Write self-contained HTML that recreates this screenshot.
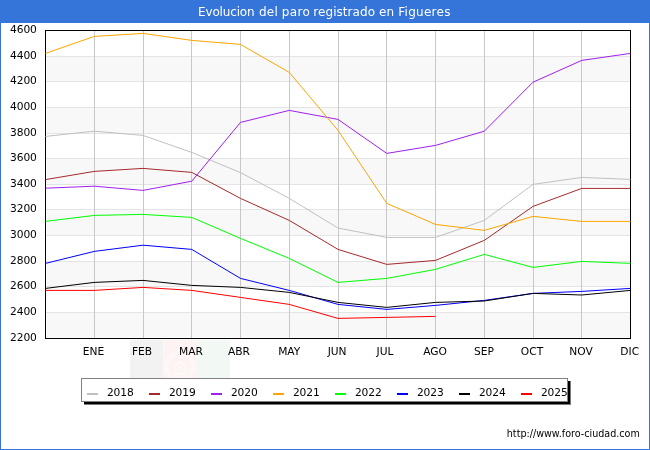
<!DOCTYPE html>
<html><head><meta charset="utf-8"><title>Evolucion del paro registrado en Figueres</title>
<style>
html,body{margin:0;padding:0;background:#fff;}
body{width:650px;height:450px;overflow:hidden;position:relative;font-family:"DejaVu Sans","Liberation Sans",sans-serif;}
svg{will-change:transform;position:absolute;left:0;top:0;display:block;}
text{font-family:"DejaVu Sans","Liberation Sans",sans-serif;}
text.u{font-family:"DejaVu Sans Condensed","DejaVu Sans","Liberation Sans",sans-serif;}
</style></head><body>
<svg width="650" height="450" viewBox="0 0 650 450">
<rect x="0" y="0" width="650" height="450" fill="#fff"/>
<g shape-rendering="crispEdges">
<rect x="0" y="0" width="650" height="23" fill="#3574d8"/>
<rect x="0" y="0" width="650" height="22" fill="#3574d8"/>
<rect x="0" y="0" width="1" height="450" fill="#3574d8"/>
<rect x="649" y="0" width="1" height="450" fill="#3574d8"/>
<rect x="0" y="449" width="650" height="1" fill="#3574d8"/>

<rect x="47" y="57" width="583" height="24" fill="#f8f8f8"/>
<rect x="47" y="108" width="583" height="25" fill="#f8f8f8"/>
<rect x="47" y="159" width="583" height="25" fill="#f8f8f8"/>
<rect x="47" y="210" width="583" height="25" fill="#f8f8f8"/>
<rect x="47" y="262" width="583" height="24" fill="#f8f8f8"/>
<rect x="47" y="313" width="583" height="24" fill="#f8f8f8"/>
<rect x="46" y="56" width="584" height="1" fill="#e4e4e4"/>
<rect x="46" y="81" width="584" height="1" fill="#e4e4e4"/>
<rect x="46" y="107" width="584" height="1" fill="#e4e4e4"/>
<rect x="46" y="133" width="584" height="1" fill="#e4e4e4"/>
<rect x="46" y="158" width="584" height="1" fill="#e4e4e4"/>
<rect x="46" y="184" width="584" height="1" fill="#e4e4e4"/>
<rect x="46" y="209" width="584" height="1" fill="#e4e4e4"/>
<rect x="46" y="235" width="584" height="1" fill="#e4e4e4"/>
<rect x="46" y="261" width="584" height="1" fill="#e4e4e4"/>
<rect x="46" y="286" width="584" height="1" fill="#e4e4e4"/>
<rect x="46" y="312" width="584" height="1" fill="#e4e4e4"/>
<rect x="94" y="31" width="1" height="307" fill="#c8c8c8"/>
<rect x="143" y="31" width="1" height="307" fill="#c8c8c8"/>
<rect x="191" y="31" width="1" height="307" fill="#c8c8c8"/>
<rect x="240" y="31" width="1" height="307" fill="#c8c8c8"/>
<rect x="289" y="31" width="1" height="307" fill="#c8c8c8"/>
<rect x="338" y="31" width="1" height="307" fill="#c8c8c8"/>
<rect x="386" y="31" width="1" height="307" fill="#c8c8c8"/>
<rect x="435" y="31" width="1" height="307" fill="#c8c8c8"/>
<rect x="484" y="31" width="1" height="307" fill="#c8c8c8"/>
<rect x="533" y="31" width="1" height="307" fill="#c8c8c8"/>
<rect x="581" y="31" width="1" height="307" fill="#c8c8c8"/>
<rect x="45.5" y="30.5" width="585" height="308" fill="none" stroke="#000" stroke-width="1"/>
</g>
<g opacity="0.047"><rect x="130" y="340" width="33.4" height="38" fill="#000"/><rect x="163.4" y="340" width="33.3" height="38" fill="#d32011"/><rect x="196.7" y="340" width="33.3" height="38" fill="#007a36"/></g>
<g fill="none" stroke="#fff" opacity="0.55"><path d="M175.5 354 A13.5 13.5 0 0 0 172 377.5 M184.5 354 A13.5 13.5 0 0 1 188 377.5" stroke-width="4.5" stroke-dasharray="2.6 0.9"/><path d="M174.5 374 L174.5 366 Q180 359.5 185.5 366 L185.5 374 Z" stroke-width="1.8"/><path d="M177 355.5 L183 355.5 M180 353 L180 358 M172 377 L188 377" stroke-width="1.6"/><path d="M177.5 374 L177.5 368.5 Q180 366 182.5 368.5 L182.5 374" stroke-width="1.2"/></g>
<polyline points="45.50,136.40 94.25,131.20 143.00,135.40 191.75,152.40 240.50,172.60 289.25,198.40 338.00,228.00 386.75,237.40 435.50,237.40 484.25,220.40 533.00,184.40 581.75,177.40 630.50,179.40" fill="none" stroke="#c0c0c0" stroke-width="1" stroke-linejoin="round"/>
<polyline points="45.50,179.60 94.25,171.40 143.00,168.40 191.75,172.40 240.50,198.40 289.25,220.40 338.00,249.40 386.75,264.40 435.50,260.40 484.25,240.40 533.00,206.40 581.75,188.40 630.50,188.40" fill="none" stroke="#a52a2a" stroke-width="1" stroke-linejoin="round"/>
<polyline points="45.50,188.20 94.25,186.20 143.00,190.40 191.75,181.20 240.50,122.40 289.25,110.40 338.00,119.40 386.75,153.40 435.50,145.40 484.25,131.20 533.00,82.20 581.75,60.40 630.50,53.40" fill="none" stroke="#a020f0" stroke-width="1" stroke-linejoin="round"/>
<polyline points="45.50,53.40 94.25,36.40 143.00,33.40 191.75,40.40 240.50,44.40 289.25,72.40 338.00,130.40 386.75,203.40 435.50,224.40 484.25,230.40 533.00,216.40 581.75,221.40 630.50,221.40" fill="none" stroke="#ffa500" stroke-width="1" stroke-linejoin="round"/>
<polyline points="45.50,221.40 94.25,215.40 143.00,214.40 191.75,217.40 240.50,238.40 289.25,258.40 338.00,282.40 386.75,278.40 435.50,269.40 484.25,254.40 533.00,267.40 581.75,261.40 630.50,263.40" fill="none" stroke="#00ff00" stroke-width="1" stroke-linejoin="round"/>
<polyline points="45.50,263.40 94.25,251.40 143.00,245.20 191.75,249.40 240.50,278.40 289.25,290.40 338.00,304.40 386.75,309.40 435.50,305.40 484.25,300.40 533.00,293.40 581.75,291.40 630.50,288.40" fill="none" stroke="#0000ff" stroke-width="1" stroke-linejoin="round"/>
<polyline points="45.50,288.40 94.25,282.40 143.00,280.40 191.75,285.40 240.50,287.40 289.25,292.40 338.00,302.40 386.75,307.40 435.50,302.40 484.25,301.00 533.00,293.40 581.75,295.00 630.50,290.40" fill="none" stroke="#000000" stroke-width="1" stroke-linejoin="round"/>
<polyline points="45.50,290.40 94.25,290.40 143.00,287.40 191.75,290.40 240.50,297.40 289.25,304.40 338.00,318.40 386.75,317.40 435.50,316.40" fill="none" stroke="#ff0000" stroke-width="1" stroke-linejoin="round"/>
<text y="16" font-size="12" fill="#fff"><tspan x="198.0" textLength="56.6">Evolucion</tspan> <tspan x="258.9" textLength="18.9">del</tspan> <tspan x="281.8" textLength="27.98">paro</tspan> <tspan x="313.3" textLength="61.7">registrado</tspan> <tspan x="378.9" textLength="15.2">en</tspan> <tspan x="398.3" textLength="52.1">Figueres</tspan></text>
<text x="36.8" y="33.0" font-size="10.67" fill="#000" text-anchor="end" textLength="26.7">4600</text>
<text x="36.8" y="59.0" font-size="10.67" fill="#000" text-anchor="end" textLength="26.7">4400</text>
<text x="36.8" y="84.0" font-size="10.67" fill="#000" text-anchor="end" textLength="26.7">4200</text>
<text x="36.8" y="110.0" font-size="10.67" fill="#000" text-anchor="end" textLength="26.7">4000</text>
<text x="36.8" y="136.0" font-size="10.67" fill="#000" text-anchor="end" textLength="26.7">3800</text>
<text x="36.8" y="161.0" font-size="10.67" fill="#000" text-anchor="end" textLength="26.7">3600</text>
<text x="36.8" y="187.0" font-size="10.67" fill="#000" text-anchor="end" textLength="26.7">3400</text>
<text x="36.8" y="212.0" font-size="10.67" fill="#000" text-anchor="end" textLength="26.7">3200</text>
<text x="36.8" y="238.0" font-size="10.67" fill="#000" text-anchor="end" textLength="26.7">3000</text>
<text x="36.8" y="264.0" font-size="10.67" fill="#000" text-anchor="end" textLength="26.7">2800</text>
<text x="36.8" y="289.0" font-size="10.67" fill="#000" text-anchor="end" textLength="26.7">2600</text>
<text x="36.8" y="315.0" font-size="10.67" fill="#000" text-anchor="end" textLength="26.7">2400</text>
<text x="36.8" y="341.0" font-size="10.67" fill="#000" text-anchor="end" textLength="26.7">2200</text>
<text x="93.4" y="355" font-size="10.67" fill="#000" text-anchor="middle">ENE</text>
<text x="142" y="355" font-size="10.67" fill="#000" text-anchor="middle">FEB</text>
<text x="191" y="355" font-size="10.67" fill="#000" text-anchor="middle">MAR</text>
<text x="239" y="355" font-size="10.67" fill="#000" text-anchor="middle">ABR</text>
<text x="289.25" y="355" font-size="10.67" fill="#000" text-anchor="middle">MAY</text>
<text x="337.1" y="355" font-size="10.67" fill="#000" text-anchor="middle">JUN</text>
<text x="385" y="355" font-size="10.67" fill="#000" text-anchor="middle">JUL</text>
<text x="435" y="355" font-size="10.67" fill="#000" text-anchor="middle">AGO</text>
<text x="484" y="355" font-size="10.67" fill="#000" text-anchor="middle">SEP</text>
<text x="532" y="355" font-size="10.67" fill="#000" text-anchor="middle">OCT</text>
<text x="581" y="355" font-size="10.67" fill="#000" text-anchor="middle">NOV</text>
<text x="629.75" y="355" font-size="10.67" fill="#000" text-anchor="middle">DIC</text>
<g shape-rendering="crispEdges"><rect x="84" y="381" width="487" height="24" fill="#7a7a7a"/><rect x="84" y="381" width="486" height="23" fill="#000"/><rect x="81.5" y="378.5" width="486" height="23" fill="#fff" stroke="#808080"/></g>
<rect x="87" y="393" width="11" height="2" fill="#c0c0c0" shape-rendering="crispEdges"/>
<text x="106.9" y="396" font-size="10.67" fill="#000" textLength="26.8">2018</text>
<rect x="149" y="393" width="11" height="2" fill="#a52a2a" shape-rendering="crispEdges"/>
<text x="168.9" y="396" font-size="10.67" fill="#000" textLength="26.8">2019</text>
<rect x="211" y="393" width="11" height="2" fill="#a020f0" shape-rendering="crispEdges"/>
<text x="230.9" y="396" font-size="10.67" fill="#000" textLength="26.8">2020</text>
<rect x="273" y="393" width="11" height="2" fill="#ffa500" shape-rendering="crispEdges"/>
<text x="292.9" y="396" font-size="10.67" fill="#000" textLength="26.8">2021</text>
<rect x="335" y="393" width="11" height="2" fill="#00ff00" shape-rendering="crispEdges"/>
<text x="354.9" y="396" font-size="10.67" fill="#000" textLength="26.8">2022</text>
<rect x="397" y="393" width="11" height="2" fill="#0000ff" shape-rendering="crispEdges"/>
<text x="416.9" y="396" font-size="10.67" fill="#000" textLength="26.8">2023</text>
<rect x="459" y="393" width="11" height="2" fill="#000000" shape-rendering="crispEdges"/>
<text x="478.9" y="396" font-size="10.67" fill="#000" textLength="26.8">2024</text>
<rect x="521" y="393" width="11" height="2" fill="#ff0000" shape-rendering="crispEdges"/>
<text x="540.9" y="396" font-size="10.67" fill="#000" textLength="26.8">2025</text>
<text x="506.8" y="437.3" font-size="10.67" class="u" fill="#000">http://www.foro-ciudad.com</text>
</svg></body></html>
